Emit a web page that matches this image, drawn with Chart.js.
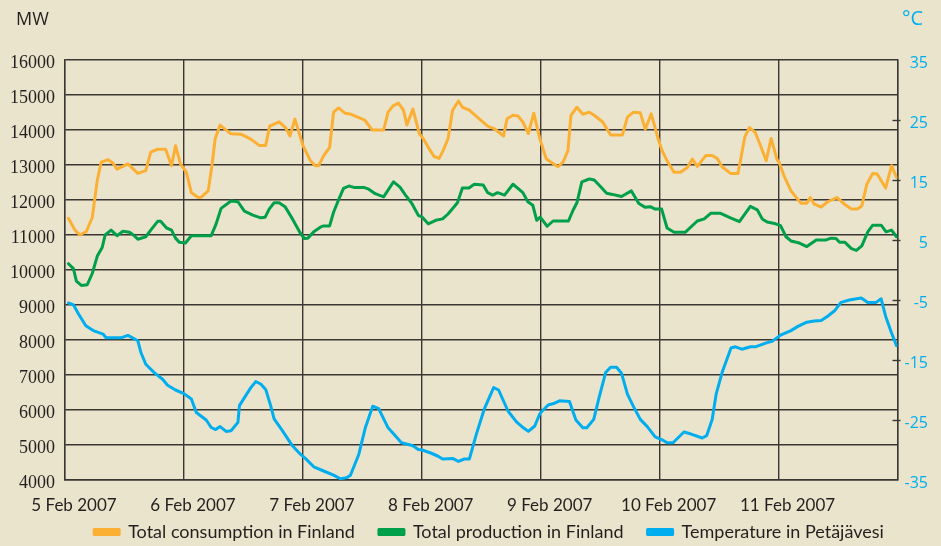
<!DOCTYPE html>
<html>
<head>
<meta charset="utf-8">
<script src="https://cdn.jsdelivr.net/npm/chart.js@4/dist/chart.umd.min.js"></script>
<style>
html,body{margin:0;padding:0;background:#ebe4cc;}
#wrap{width:941px;height:546px;}
</style>
</head>
<body>
<div id="wrap"><canvas id="c" width="941" height="546"></canvas></div>
<script>
// ---- data (hours since 5 Feb 2007 00:00) ----
const dateLabels = ['5 Feb 2007','6 Feb 2007','7 Feb 2007','8 Feb 2007','9 Feb 2007','10 Feb 2007','11 Feb 2007',''];
const seriesNames = ['Total consumption in Finland','Total production in Finland','Temperature in Petäjävesi'];

const consHours = [0.7,2,3,4.3,5.5,6.5,7.3,8.7,9.7,10.5,12.7,14.7,16.3,17.3,18.7,20.3,21.5,22.3,23.3,
 24.5,25.5,26.9,27.5,28.9,29.7,30.3,31.3,33.5,35.5,37.5,39.2,40.5,41.3,43.2,44.5,45.4,46.4,
 48,49.5,50.5,51.2,52.2,53.4,54.2,55.2,56.5,57.5,60.5,62,64.3,65.2,66.2,67.3,68.3,69,70.2,71.5,
 72.5,73.5,74.5,75.5,76.3,77.3,78.2,79.4,80.2,81.6,83.6,85.3,86.7,88.5,89.2,90.4,91.4,92.4,93.5,94.6,95.8,
 97.1,98.1,99.5,100.5,101.5,102.1,103.3,104.5,105.8,106.8,108.5,110.1,112.5,113.5,114.7,116.1,117.1,118.3,119.8,
 120.5,121.5,122.9,124.2,125.6,126.6,127.6,129.3,130.6,131.6,132.6,134.3,135.8,136.3,137.2,138.1,139.3,140.5,141.5,142.5,143.7,
 144.1,145.1,146.5,148.5,149.7,150.4,151.2,152.6,153.9,155.8,157.3,158.7,159.9,160.8,161.8,163,163.9,165.6,166.8,167.8];
const consMW = [11480,11140,11000,11100,11500,12550,13080,13150,13050,12880,13030,12760,12840,13370,13450,13450,12980,13550,13030,
 12790,12210,12070,12080,12260,13030,13750,14140,13890,13880,13740,13560,13560,14110,14230,14070,13830,14310,
 13560,13130,12980,12980,13270,13500,14510,14630,14480,14460,14280,14000,14000,14510,14690,14770,14570,14140,14600,13900,
 13710,13460,13240,13190,13410,13750,14560,14830,14650,14570,14320,14110,14030,13830,14320,14420,14400,14230,13900,14480,13760,
 13180,13080,12950,13080,13410,14420,14650,14450,14510,14420,14230,13860,13860,14370,14510,14490,14020,14460,13700,
 13410,13120,12790,12790,12930,13170,12960,13270,13270,13190,12950,12760,12760,13120,13810,14070,13930,13500,13120,13760,13150,
 13080,12690,12260,11910,11910,12070,11880,11800,11950,12070,11880,11740,11740,11830,12450,12760,12740,12340,12980,12650];

const prodHours = [0.7,1.7,2.3,3.3,4.5,5.5,6.5,7.5,8.1,9.3,10.5,11.7,13,13.8,14.7,16.3,17.3,18.7,19.3,20.5,21.5,22.3,23.1,
 24.3,25.5,29.5,30.4,31.5,33.5,34.9,36.2,37.9,39.5,40.4,41.2,42.2,43.2,44.4,45.9,47.5,
 48.3,49,50.2,51.6,52.2,53.4,54.2,55.4,56.2,57.3,58.3,60.3,61.3,62.6,64.3,66.3,67.6,68.6,70,71.3,
 72.1,73.3,74.8,76.2,77.3,79.2,80.2,81.5,82.6,84.4,85.3,86.3,87.3,88.7,90.4,91.4,92.4,93.4,94.4,95.2,95.9,
 97.3,98.5,101.6,102.5,103.3,104.3,105.8,106.8,108.1,109.3,110.5,112.3,114.3,115.8,117.1,118.1,119.1,
 120.4,121.5,122.9,125.2,127.6,129,130.3,132.3,134.3,136.1,138.3,139.7,140.7,141.7,143.4,
 144.4,145.5,146.5,148.2,149.7,151.6,153.6,154.6,155.6,156.3,157.4,158.7,159.7,160.8,162,163,164.7,165.7,166.8,167.8];
const prodMW = [10180,10040,9680,9560,9580,9900,10390,10640,11000,11140,10980,11110,11080,11000,10880,10950,11140,11390,11390,11200,11140,10910,10790,
 10770,10980,10980,11280,11760,11970,11950,11680,11570,11490,11510,11740,11920,11920,11810,11460,11050,
 10900,10910,11090,11230,11260,11260,11650,12070,12330,12400,12360,12360,12310,12180,12090,12520,12370,12160,11900,11560,
 11510,11320,11420,11460,11600,11920,12340,12340,12450,12430,12210,12140,12210,12140,12450,12330,12210,11950,11850,11420,11510,
 11250,11400,11400,11700,11920,12520,12600,12570,12380,12190,12160,12100,12260,11900,11790,11810,11740,
 11740,11200,11080,11080,11400,11460,11620,11620,11490,11380,11820,11720,11460,11370,11320,
 11270,10950,10830,10770,10670,10860,10860,10910,10900,10790,10790,10610,10560,10690,11090,11280,11280,11090,11140,10950];

const tempHours = [0.7,1.7,2.7,4.2,5.7,7.7,8.3,11.3,12.7,14.7,15.3,16.3,18,19.7,20.7,22.3,24,
 25.5,26.5,28.5,29.5,30.4,31.3,32.5,33.5,34.9,35.2,36.5,37.5,38.5,39.5,40.5,41.5,42.2,43.9,45.9,47.5,
 48.5,50.2,52.2,54.2,55.6,56.9,57.6,59.3,60.6,62.1,63.3,65.2,66.3,67.9,68.9,70.2,71.3,
 72.1,73.8,75.2,76.2,78.2,79.4,80.6,81.6,83,84.6,86.5,87.5,89.4,91.1,92.5,93.5,94.8,95.8,
 96,97.5,98.8,99.8,101.8,103.1,104.5,105.3,106.7,107.8,109.1,110.1,111.3,112.3,113.5,114.8,116.1,117.5,119.1,
 120.5,121.5,122.7,124.9,126.2,128.6,129.5,130.6,131.4,132.6,134.4,135.3,136.6,138.3,139.3,140.7,141.7,142.7,144,
 144.5,146.5,147.9,149.7,151.2,152.6,153.9,155.3,156.6,158.3,159.7,160.7,162,163.7,164.7,165.6,166.8,167.8];
const tempC = [-5.5,-5.8,-7.3,-9.3,-10.1,-10.7,-11.3,-11.3,-10.9,-11.8,-13.7,-15.7,-17.1,-18.2,-19.2,-20.0,-20.6,
 -21.5,-23.75,-25.0,-26.25,-26.6,-26.1,-26.9,-26.8,-25.4,-22.6,-20.9,-19.6,-18.6,-19.0,-19.9,-22.6,-24.8,-26.8,-29.3,-30.7,
 -31.4,-32.8,-33.5,-34.2,-34.8,-34.6,-34.2,-30.7,-26.3,-22.7,-23.1,-26.3,-27.3,-28.8,-29.0,-29.3,-29.9,
 -30.0,-30.5,-31.0,-31.5,-31.4,-31.9,-31.5,-31.5,-27.4,-23.2,-19.6,-20.0,-23.5,-25.3,-26.3,-26.9,-26.0,-24.0,
 -23.75,-22.5,-22.2,-21.8,-21.9,-25.0,-26.3,-26.3,-24.9,-21.2,-17.1,-16.2,-16.2,-17.2,-20.7,-22.9,-24.9,-26.1,-27.8,
 -28.3,-28.8,-28.8,-27.0,-27.3,-28.0,-27.6,-24.9,-20.7,-17.1,-13.0,-12.8,-13.2,-12.8,-12.8,-12.4,-12.1,-11.9,-11.1,
 -10.8,-10.1,-9.4,-8.7,-8.5,-8.4,-7.7,-6.8,-5.4,-5.0,-4.8,-4.65,-5.4,-5.4,-4.8,-7.7,-10.5,-12.6];

const mwTicks = [4000,5000,6000,7000,8000,9000,10000,11000,12000,13000,14000,15000,16000];
const cTicks = [-35,-25,-15,-5,5,15,25,35];
const dayTicks = [0,24,48,72,96,120,144,168];

// ---- styles ----
const BG = '#ebe4cc';
const GRID = '#3a3633';
const ORANGE = '#fbb034';
const GREEN = '#00a04b';
const BLUE = '#00aeef';

function pts(xs, ys){ return xs.map((x,i)=>({x:x, y:ys[i]})); }

const bgPlugin = {
  id:'bg',
  afterLayout(chart){
    const lg = chart.legend;
    if (lg) { lg.left += 25; lg.right += 25; }
  },
  beforeDraw(chart){
    const ctx = chart.ctx;
    ctx.save(); ctx.fillStyle = BG; ctx.fillRect(0,0,chart.width,chart.height); ctx.restore();
  },
  afterDraw(chart){
    const ctx = chart.ctx;
    const ca = chart.chartArea;
    const yr = chart.scales.yR;
    ctx.save();
    // tick marks across the right axis
    ctx.strokeStyle = GRID; ctx.lineWidth = 1.4;
    cTicks.forEach(v=>{
      if (v === 35 || v === -35) return;
      const y = Math.round(yr.getPixelForValue(v)) + 0.5;
      ctx.beginPath(); ctx.moveTo(ca.right - 5, y); ctx.lineTo(ca.right + 3, y); ctx.stroke();
    });
    // unit labels
    ctx.fillStyle = '#231f20';
    ctx.font = '18px "Open Sans"';
    ctx.textBaseline = 'middle'; ctx.textAlign = 'left';
    ctx.fillText('MW', 16, 20);
    ctx.fillStyle = BLUE;
    ctx.font = '20px "Open Sans"';
    ctx.fillText('°C', 902, 19);
    ctx.restore();
  }
};

new Chart(document.getElementById('c'), {
  type:'line',
  data:{
    datasets:[
      {label:seriesNames[0], data:pts(consHours,consMW), yAxisID:'y', borderColor:ORANGE, backgroundColor:ORANGE},
      {label:seriesNames[1], data:pts(prodHours,prodMW), yAxisID:'y', borderColor:GREEN, backgroundColor:GREEN},
      {label:seriesNames[2], data:pts(tempHours,tempC), yAxisID:'yR', borderColor:BLUE, backgroundColor:BLUE}
    ]
  },
  options:{
    responsive:false,
    animation:false,
    devicePixelRatio:1,
    layout:{padding:{top:60,left:0,right:13,bottom:-5}},
    elements:{
      line:{borderWidth:3, tension:0, borderJoinStyle:'round', borderCapStyle:'round'},
      point:{radius:0, hoverRadius:0}
    },
    plugins:{
      tooltip:{enabled:false},
      legend:{
        position:'bottom',
        labels:{
          boxWidth:25, boxHeight:5, padding:24, color:'#231f20',
          font:{family:'Lato', size:18}
        }
      }
    },
    scales:{
      x:{
        type:'linear', min:0, max:168,
        afterBuildTicks(s){ s.ticks = dayTicks.map(v=>({value:v})); },
        afterFit(s){ s.height = 19; s._computeLabelArea = function(){ return undefined; }; },
        grid:{color:GRID, lineWidth:1.4, drawTicks:false},
        border:{color:GRID, width:1.4},
        ticks:{
          padding:15, color:'#231f20', font:{family:'Lato', size:17}, labelOffset:9,
          maxRotation:0, autoSkip:false,
          callback(v){ return dateLabels[dayTicks.indexOf(v)]; }
        }
      },
      y:{
        position:'left', min:4000, max:16000,
        afterBuildTicks(s){ s.ticks = mwTicks.map(v=>({value:v})); },
        afterFit(s){ s.width = 65; },
        grid:{color:GRID, lineWidth:1.4, drawTicks:false},
        border:{color:GRID, width:1.4},
        ticks:{
          padding:10, color:'#231f20', font:{family:'Liberation Serif', size:18}, labelOffset:3,
          callback(v){ return String(v); }
        }
      },
      yR:{
        position:'right', min:-35, max:35,
        afterBuildTicks(s){ s.ticks = cTicks.map(v=>({value:v})); },
        afterFit(s){ s.width = 30.5; s._computeLabelArea = function(){ return undefined; }; },
        grid:{drawOnChartArea:false, color:GRID, lineWidth:1.4, drawTicks:false},
        border:{color:GRID, width:1.4},
        ticks:{
          padding:3, crossAlign:'far', color:BLUE, font:{family:'Open Sans', size:16}, labelOffset:3,
          callback(v){ return String(v); }
        }
      }
    }
  },
  plugins:[bgPlugin]
});
</script>
</body>
</html>
